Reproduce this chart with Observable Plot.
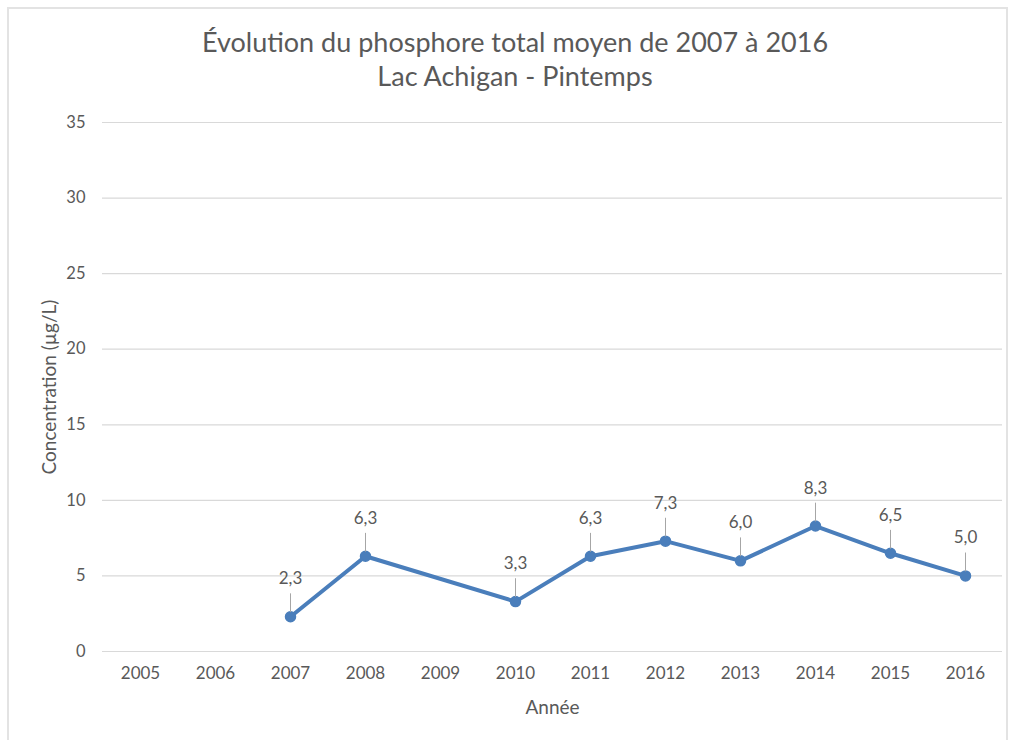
<!DOCTYPE html>
<html>
<head>
<meta charset="utf-8">
<script src="https://cdn.jsdelivr.net/npm/d3@7"></script>
<script src="https://cdn.jsdelivr.net/npm/@observablehq/plot@0.6"></script>
<style>
  html, body { margin: 0; padding: 0; background: #fff; }
  #wrap { position: relative; width: 1013px; height: 740px; overflow: hidden; font-family: Lato, "Open Sans", sans-serif; color: #595959; }
  #frame { position: absolute; left: 7px; top: 7px; width: 1001px; height: 740px; border-left: 2px solid #e3e3e3; border-top: 2px solid #e3e3e3; border-right: 2px solid #e3e3e3; box-sizing: border-box; }
  #title { position: absolute; left: 0; top: 25px; width: 1030px; text-align: center; font-size: 27px; line-height: 34px; color: #595959; }
  #chart { position: absolute; left: 0; top: 100px; }
</style>
</head>
<body>
<div id="wrap">
  <div id="frame"></div>
  <div id="title">Évolution du phosphore total moyen de 2007 à 2016<br>Lac Achigan - Pintemps</div>
  <div id="chart"></div>
</div>
<script>
const categories = ["2005","2006","2007","2008","2009","2010","2011","2012","2013","2014","2015","2016"];
const seriesYears = ["2007","2008","2010","2011","2012","2013","2014","2015","2016"];
const seriesValues = [2.3, 6.3, 3.3, 6.3, 7.3, 6.0, 8.3, 6.5, 5.0];
const yTicks = [0, 5, 10, 15, 20, 25, 30, 35];

const data = seriesYears.map((year, i) => ({year, value: seriesValues[i]}));
const fmt = v => v.toFixed(1).replace(".", ",");
const blue = "#4a7ebb";
const textColor = "#595959";

const leader = {
  draw(context, l) {
    context.moveTo(0, 0);
    context.lineTo(0, -l);
  }
};

const chart = Plot.plot({
  width: 1013,
  height: 640,
  marginTop: 22,
  marginBottom: 89,
  marginLeft: 102,
  marginRight: 11,
  style: {fontFamily: "Lato, 'Open Sans', sans-serif", fontSize: "17px", color: textColor, background: "transparent"},
  x: {type: "point", domain: categories, padding: 0.5, label: null},
  y: {domain: [0, 35], label: null},
  marks: [
    Plot.ruleY(yTicks, {stroke: "#d9d9d9", strokeWidth: 1.2}),
    Plot.axisY({ticks: yTicks, tickSize: 0, tickPadding: 17, label: null, fill: textColor, fontSize: 16.5}),
    Plot.axisX({tickSize: 0, tickPadding: 15, label: null, fill: textColor, fontSize: 17}),
    Plot.text(["Année"], {frameAnchor: "bottom", dy: 56, textAnchor: "middle", lineAnchor: "middle", fill: textColor, fontSize: 19}),
    Plot.text(["Concentration (µg/L)"], {frameAnchor: "left", dx: -53, rotate: -90, textAnchor: "middle", lineAnchor: "middle", fill: textColor, fontSize: 19}),
    Plot.line(data, {x: "year", y: "value", stroke: blue, strokeWidth: 4, strokeLinejoin: "round"}),
    Plot.dot(data, {x: "year", y: "value", r: 5, fill: blue, stroke: blue}),
    Plot.vector(data, {x: "year", y: "value", length: 18, anchor: "start", dy: -5, shape: leader, stroke: "#a6a6a6", strokeWidth: 1}),
    Plot.text(data, {x: "year", y: "value", text: d => fmt(d.value), dy: -38, fill: textColor, fontSize: 17})
  ]
});
document.getElementById("chart").appendChild(chart);
</script>
</body>
</html>
